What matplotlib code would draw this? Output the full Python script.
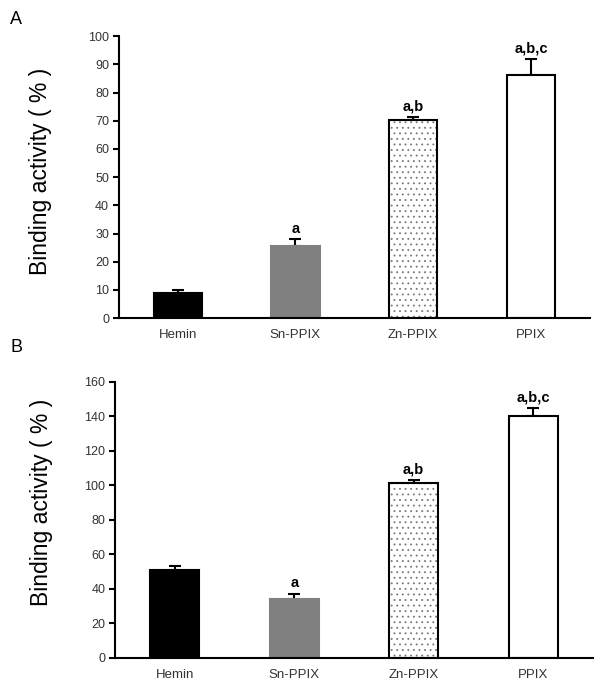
import matplotlib.pyplot as plt

plt.rcParams['font.family'] = ['Liberation Sans', 'DejaVu Sans']
plt.rcParams['hatch.linewidth'] = 0.6

compounds = ["Hemin", "Sn-PPIX", "Zn-PPIX", "PPIX"]

# panel A
a_vals = [9.0, 25.7, 70.2, 86.3]
a_err = [1.0, 2.3, 1.0, 5.6]
a_sig = ["", "a", "a,b", "a,b,c"]

# panel B
b_vals = [50.8, 34.2, 101.3, 140.4]
b_err = [2.8, 3.1, 1.9, 4.4]
b_sig = ["", "a", "a,b", "a,b,c"]

fills = ["black", "#808080", "white", "white"]
edges = ["black", "#808080", "black", "black"]
hatches = [None, None, "...", None]

fig = plt.figure(figsize=(6, 6.96), dpi=100)
axA = fig.add_axes([0.198, 0.543, 0.785, 0.405])
axB = fig.add_axes([0.192, 0.0546, 0.796, 0.3966])


def draw(ax, vals, err, sig, ymax, step, off, lab_xy):
    x = range(len(compounds))
    for i in x:
        if hatches[i]:
            # dotted fill drawn in grey, outline on top in black
            ax.bar(i, vals[i], width=0.41, color='white', edgecolor='#777777',
                   hatch=hatches[i], linewidth=0, zorder=2)
            ax.bar(i, vals[i], width=0.41, fill=False, edgecolor='black',
                   linewidth=1.5, zorder=2.5)
        else:
            ax.bar(i, vals[i], width=0.41, color=fills[i], edgecolor=edges[i],
                   linewidth=1.5, zorder=2)
        ax.errorbar(i, vals[i], yerr=[[0], [err[i]]], fmt='none', ecolor='black',
                    elinewidth=1.5, capsize=4, capthick=1.5, zorder=1)
        if sig[i]:
            ax.text(i, vals[i] + err[i] + off, sig[i], ha='center', va='bottom',
                    fontsize=10.5, fontweight='bold')
    ax.set_xlim(-0.5, 3.5)
    ax.set_ylim(0, ymax)
    ax.set_yticks(range(0, ymax + 1, step))
    ax.set_xticks(list(x))
    ax.set_xticklabels(compounds)
    ax.spines['top'].set_visible(False)
    ax.spines['right'].set_visible(False)
    ax.spines['left'].set_linewidth(1.5)
    ax.spines['bottom'].set_linewidth(1.5)
    ax.tick_params(axis='y', direction='out', length=4, width=1.5, labelsize=9,
                   labelcolor='#333333', pad=3)
    ax.tick_params(axis='x', length=0, labelsize=9.5, labelcolor='#333333', pad=8)
    ax.set_ylabel("Binding activity ( % )", fontsize=16.5)
    ax.yaxis.set_label_coords(*lab_xy)


draw(axA, a_vals, a_err, a_sig, 100, 10, 1.2, (-0.142, 0.52))
draw(axB, b_vals, b_err, b_sig, 160, 20, 2.0, (-0.131, 0.565))

fig.text(0.017, 0.972, "A", fontsize=13, va='center')
fig.text(0.017, 0.5, "B", fontsize=13, va='center')

fig.savefig("out.png", dpi=100)
